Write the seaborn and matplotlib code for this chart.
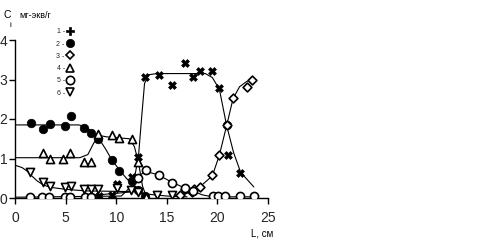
import matplotlib
matplotlib.use("Agg")
import matplotlib.pyplot as plt
from matplotlib.lines import Line2D
import seaborn as sns
import pandas as pd

sns.set_theme(style="white")
plt.rcParams['font.family'] = ['Liberation Sans Narrow', 'Liberation Sans', 'DejaVu Sans']

# ---- measured points ----
s1_x = [10.1, 11.55, 12.2, 12.87, 14.2, 15.5, 16.8, 17.6, 18.25, 19.5, 20.2, 20.9, 21.0, 22.2, 8.3, 9.6]
s1_y = [0.35, 0.54, 1.05, 3.06, 3.11, 2.86, 3.41, 3.06, 3.22, 3.22, 2.78, 1.85, 1.10, 0.64, 0.06, 0.08]
s2_x = [1.55, 2.8, 3.5, 4.9, 5.5, 6.8, 7.5, 8.25, 9.6, 10.3, 11.55, 12.2, 12.8]
s2_y = [1.90, 1.74, 1.87, 1.82, 2.08, 1.76, 1.64, 1.49, 0.96, 0.69, 0.44, 0.20, 0.05]
s3_x = [16.3, 16.8, 17.5, 17.65, 18.25, 19.5, 20.2, 20.9, 21.55, 22.9, 23.4]
s3_y = [0.08, 0.22, 0.16, 0.22, 0.29, 0.58, 1.10, 1.85, 2.54, 2.80, 2.99]
s4_x = [2.8, 3.45, 4.7, 5.45, 6.8, 7.5, 8.25, 9.6, 10.3, 11.55, 12.2, 12.9]
s4_y = [1.13, 1.00, 1.00, 1.13, 0.92, 0.92, 1.62, 1.60, 1.53, 1.50, 0.92, 0.03]
s5_x = [1.5, 2.7, 3.4, 4.9, 5.4, 6.9, 7.5, 12.2, 12.9, 14.2, 15.5, 16.8, 17.6, 19.6, 20.1, 20.8, 22.2, 23.6]
s5_y = [0.03, 0.03, 0.03, 0.03, 0.03, 0.03, 0.03, 0.50, 0.70, 0.57, 0.39, 0.25, 0.18, 0.05, 0.05, 0.05, 0.05, 0.06]
s6_x = [1.5, 2.8, 3.5, 4.9, 5.5, 6.8, 7.5, 8.2, 10.1, 11.5, 12.2, 14.0, 15.5]
s6_y = [0.67, 0.41, 0.30, 0.27, 0.30, 0.23, 0.23, 0.23, 0.25, 0.20, 0.15, 0.08, 0.08]

# ---- fitted curves ----
c1_x = [7.0, 11.3, 11.8, 12.2, 12.5, 12.8, 13.2, 14.0, 18.8, 19.5, 20.2, 20.9, 21.6, 22.3, 23.6]
c1_y = [0.05, 0.15, 0.50, 1.05, 2.00, 2.90, 3.12, 3.15, 3.15, 3.05, 2.75, 1.85, 1.15, 0.65, 0.28]
c2_x = [0, 6.3, 7.0, 7.6, 8.3, 9.0, 9.6, 10.3, 11.0, 11.6, 12.2, 12.8, 13.2]
c2_y = [1.85, 1.85, 1.80, 1.68, 1.50, 1.22, 0.95, 0.72, 0.50, 0.35, 0.20, 0.07, 0.02]
c3_x = [15.5, 17.0, 18.3, 19.5, 20.2, 20.9, 21.55, 22.2, 22.9, 23.6]
c3_y = [0.03, 0.12, 0.29, 0.56, 1.09, 1.82, 2.52, 2.82, 2.95, 3.03]
c4_x = [0, 6.4, 7.2, 7.8, 8.4, 9.0, 11.3, 11.8, 12.2, 12.6, 13.0]
c4_y = [1.02, 1.02, 1.10, 1.40, 1.58, 1.55, 1.50, 1.30, 0.90, 0.30, 0.02]
c5_x = [0, 10.5, 11.5, 12.2, 12.9, 14.2, 15.5, 16.8, 17.6, 18.5, 19.5, 23.6]
c5_y = [0.02, 0.05, 0.30, 0.55, 0.68, 0.58, 0.40, 0.25, 0.17, 0.08, 0.03, 0.03]
c6_x = [0, 0.7, 1.2, 1.7, 2.2, 2.8, 3.5, 5.0, 7.0, 12.0, 13.0, 15.0, 17.0]
c6_y = [0.83, 0.77, 0.68, 0.55, 0.43, 0.33, 0.27, 0.22, 0.18, 0.16, 0.10, 0.05, 0.03]

labels = ["1 -", "2 -", "3 -", "4 -", "5 -", "6 -"]
markers = ["X", "o", "D", "^", "o", "v"]
filled = [True, True, False, False, False, False]
msizes = [32, 38, 20, 34, 34, 34]

pts = [(s1_x, s1_y), (s2_x, s2_y), (s3_x, s3_y), (s4_x, s4_y), (s5_x, s5_y), (s6_x, s6_y)]
crv = [(c1_x, c1_y), (c2_x, c2_y), (c3_x, c3_y), (c4_x, c4_y), (c5_x, c5_y), (c6_x, c6_y)]

fig = plt.figure(figsize=(4.81, 2.41), dpi=100)
ax = fig.add_axes([15/481, 43/241, 253/481, 158/241])

for i, (cx, cy) in enumerate(crv):
    d = pd.DataFrame({"x": cx, "y": cy})
    sns.lineplot(data=d, x="x", y="y", ax=ax, color="black", linewidth=0.8,
                 sort=False, estimator=None, legend=False)

for i, (px, py) in enumerate(pts):
    d = pd.DataFrame({"x": px, "y": py})
    sns.scatterplot(data=d, x="x", y="y", ax=ax, marker=markers[i], s=msizes[i],
                    color="black" if filled[i] else "white",
                    edgecolor="black", linewidth=1.2 if not filled[i] else 0.5,
                    legend=False, zorder=3)

ax.set_xlim(0, 25)
ax.set_ylim(0, 4)
ax.set_xticks([0, 5, 10, 15, 20, 25])
ax.set_yticks([0, 1, 2, 3, 4])
ax.set_xlabel("")
ax.set_ylabel("")
for sp in ["top", "right"]:
    ax.spines[sp].set_visible(False)
for sp in ["left", "bottom"]:
    ax.spines[sp].set_color("black")
    ax.spines[sp].set_linewidth(1.0)
ax.tick_params(axis="both", direction="out", length=4, width=1, color="black",
               labelsize=10, bottom=True, left=True)
ax.tick_params(axis="y", pad=1.5)
ax.tick_params(axis="x", pad=5)

# legend
handles = []
lmarkers = ["P", "o", "D", "^", "o", "v"]
for i in range(6):
    handles.append(Line2D([0], [0], marker=lmarkers[i], linestyle="None",
                          markersize=6 if i != 2 else 4.5,
                          markerfacecolor="black" if filled[i] else "white",
                          markeredgecolor="black", markeredgewidth=1.2 if not filled[i] else 0.5))
fig.legend(handles, labels, loc="upper left", bbox_to_anchor=(53/481, 1 - 25/241),
           frameon=False, markerfirst=False, fontsize=5, handlelength=0.9,
           handletextpad=0.3, labelspacing=0.75, borderpad=0)

fig.text(3/481, 1 - 18/241, "C", fontsize=7.5, color="black")
fig.text(10/481, 1 - 27/241, "i", fontsize=6, color="black")
fig.text(19/481, 1 - 18/241, "мг-экв/г", fontsize=6.5, color="black")
fig.text(251/481, 1 - 236/241, "L, см", fontsize=7, color="black")

fig.savefig("out.png", dpi=100, facecolor="white")
